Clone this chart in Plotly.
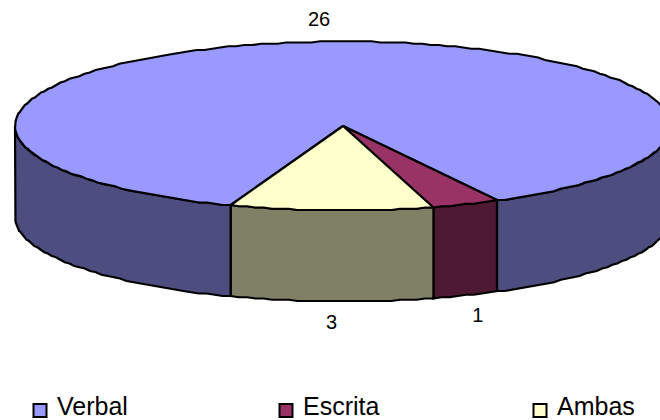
import numpy as np
import plotly.graph_objects as go

# Survey counts per response type
categories = ["Verbal", "Escrita", "Ambas"]
values = [26, 1, 3]
top_colors = ["#9999FF", "#993366", "#FFFFCC"]
side_colors = ["#4D4D80", "#4D1933", "#808066"]

# Projection of the tilted disc, in page pixels
CX, CY = 343, 126
RX, RY = 328, 84.5
DEPTH = 91
FIRST_ANGLE = 200  # degrees clockwise from twelve o'clock
STEP = 1.25  # the rim is drawn on a coarse grid, which gives it a slightly stepped edge
FONT = "Liberation Sans"

# Legend row, in page pixels
LEGEND_X = [40, 286, 540]
LEGEND_Y = 410.5
LEGEND_TEXT_GAP = 17
LEGEND_TEXT_Y = 408.5


def rim(deg, drop=0):
    rad = np.radians(deg)
    x = CX + RX * np.sin(rad)
    y = CY - RY * np.cos(rad)
    return x, np.round(y / STEP) * STEP + drop


def arc(start, end):
    count = max(2, int(abs(end - start) / 1.5) + 1)
    return np.linspace(start, end, count)


fig = go.Figure()
outline = dict(color="black", width=2.2)


def add_polygon(xs, ys, color):
    fig.add_trace(go.Scatter(x=xs, y=ys, mode="lines", fill="toself", fillcolor=color,
                             line=outline, showlegend=False, hoverinfo="skip"))


# Slice extents from the counts
shares = np.array(values) / sum(values) * 360
starts = FIRST_ANGLE + np.concatenate(([0], np.cumsum(shares)[:-1]))
ends = starts + shares

# Outer wall: only the part of each slice on the near half of the disc shows
for start, end, color in zip(starts, ends, side_colors):
    for near_lo, near_hi in ((90, 270), (450, 630)):
        lo, hi = max(start, near_lo), min(end, near_hi)
        if lo >= hi:
            continue
        angles = arc(lo, hi)
        x_top, y_top = rim(angles)
        x_bot, y_bot = rim(angles[::-1], DEPTH)
        add_polygon(np.r_[x_top, x_bot, x_top[0]], np.r_[y_top, y_bot, y_top[0]], color)

# Top face of each slice
for start, end, color in zip(starts, ends, top_colors):
    x_arc, y_arc = rim(arc(start, end))
    add_polygon(np.r_[CX, x_arc, CX], np.r_[CY, y_arc, CY], color)

# Value labels just outside the rim at each slice's middle angle
mids = (starts + ends) / 2
label_x = CX + RX * 1.09 * np.sin(np.radians(mids)) + 1
label_y = []
for mid in mids:
    _, y = rim(mid)
    label_y.append(y - 20 if np.cos(np.radians(mid)) > 0 else y + DEPTH + 22.5)
fig.add_trace(go.Scatter(x=label_x, y=label_y, mode="text", text=[str(v) for v in values],
                         textfont=dict(family=FONT, size=20, color="black"),
                         showlegend=False, hoverinfo="skip"))

# Legend row spread across the full width
fig.add_trace(go.Scatter(x=LEGEND_X, y=[LEGEND_Y] * len(LEGEND_X), mode="markers",
                         marker=dict(symbol="square", size=13, color=top_colors,
                                     line=dict(color="black", width=2)),
                         showlegend=False, hoverinfo="skip"))
fig.add_trace(go.Scatter(x=[x + LEGEND_TEXT_GAP for x in LEGEND_X],
                         y=[LEGEND_TEXT_Y] * len(LEGEND_X),
                         mode="text", text=categories, textposition="middle right",
                         textfont=dict(family=FONT, size=25, color="black"),
                         showlegend=False, hoverinfo="skip"))

fig.update_layout(
    width=660, height=420,
    margin=dict(l=0, r=0, t=0, b=0),
    paper_bgcolor="white", plot_bgcolor="white",
    xaxis=dict(range=[0, 660], visible=False, fixedrange=True),
    yaxis=dict(range=[420, 0], visible=False, fixedrange=True),
    showlegend=False,
)

fig.write_html("out.html", config={"displayModeBar": False})
